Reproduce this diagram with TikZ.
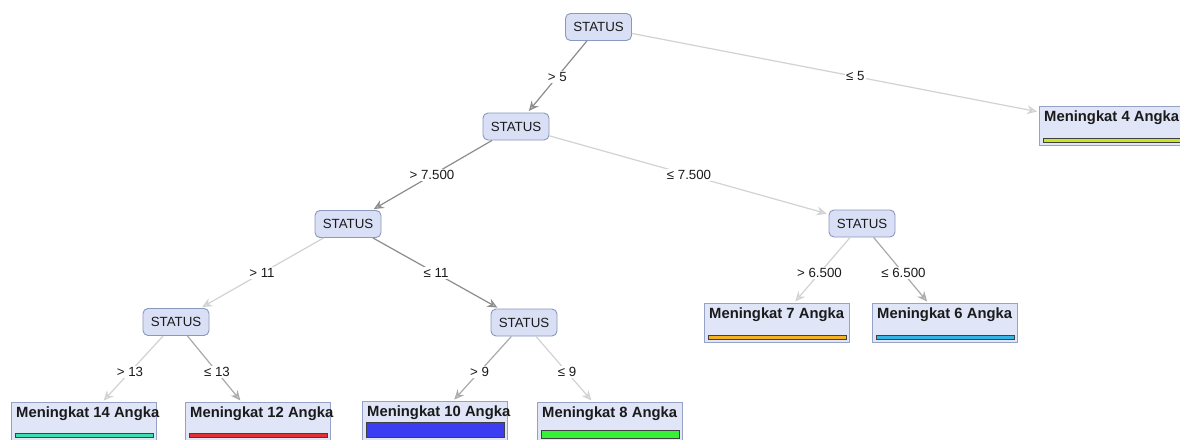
\documentclass[tikz,border=0pt]{standalone}
\usepackage{fontspec}
\setmainfont{Liberation Sans}
\usetikzlibrary{arrows.meta,calc}

\definecolor{splitfill}{HTML}{D9DFF4}
\definecolor{splitline}{HTML}{8A98C0}
\definecolor{leaffill}{HTML}{E0E6F8}
\definecolor{leafline}{HTML}{95A2C6}
\definecolor{edgedark}{HTML}{8C8C8C}
\definecolor{edgemid}{HTML}{AAAAAA}
\definecolor{edgelight}{HTML}{D2D2D2}
\definecolor{txt}{HTML}{1A1A1A}
\definecolor{barA}{HTML}{C8E81E}
\definecolor{barB}{HTML}{F2B224}
\definecolor{barC}{HTML}{36B4E6}
\definecolor{barD}{HTML}{3EDDB0}
\definecolor{barE}{HTML}{E03232}
\definecolor{barF}{HTML}{3C3CF2}
\definecolor{barG}{HTML}{36F236}

\tikzset{
  split/.style={draw=splitline, fill=splitfill, rounded corners=5pt, line width=0.9pt,
    minimum width=66pt, minimum height=27pt, inner sep=0pt, text=txt,
    font=\fontsize{13.3}{15}\selectfont},
  leaf/.style={draw=leafline, fill=leaffill, line width=0.9pt,
    minimum width=145pt, minimum height=39pt, inner sep=0pt},
  leaftext/.style={inner sep=0pt, text=txt, font=\fontsize{14.8}{16}\selectfont\bfseries},
  bar/.style={draw=black!75, line width=0.8pt},
  lbl/.style={fill=white, inner sep=1.5pt, text=txt, font=\fontsize{13.3}{15}\selectfont},
  edge/.style={line width=1.2pt, shorten >=2pt,
    -{Stealth[length=10pt,width=9pt,inset=3.5pt,fill=#1!55]}, draw=#1},
}

% leaf: name, north-west corner, text, bar colour, bar top offset, bar height
\newcommand\leafbox[6]{%
  \node[leaf, anchor=north west] (#1) at (#2) {};
  \node[leaftext, anchor=base west] at ([shift={(5pt,-15.5pt)}]#1.north west) {#3};
  \draw[bar, fill=#4] ([shift={(4pt,-#5)}]#1.north west)
     rectangle ([shift={(-3.5pt,-#5-#6)}]#1.north east);
}
% edge drawn between node borders, label at the centre-to-centre midpoint
\newcommand\tedge[4]{%
  \draw[edge=#3] (#1) -- (#2);
  \node[lbl] at ($(#1.center)!0.5!(#2.center)$) {#4};
}

\begin{document}
\begin{tikzpicture}[x=1pt,y=-1pt]
\useasboundingbox (0,0) rectangle (1180,439);
\clip (0,0) rectangle (1180,439);
\fill[white] (0,0) rectangle (1180,439);

% decision nodes
\node[split] (s0) at (598.5,27) {STATUS};
\node[split] (s1) at (516,126.5) {STATUS};
\node[split] (s2) at (348,224) {STATUS};
\node[split] (s3) at (862,223.5) {STATUS};
\node[split] (s4) at (176,322) {STATUS};
\node[split] (s5) at (524,322.5) {STATUS};

% leaves
\leafbox{l4}{1039,106}{Meningkat 4 Angka}{barA}{32pt}{4pt}
\leafbox{l7}{704,303}{Meningkat 7 Angka}{barB}{32pt}{4pt}
\leafbox{l6}{872,303}{Meningkat 6 Angka}{barC}{32pt}{4pt}
\leafbox{l14}{11,402}{Meningkat 14 Angka}{barD}{31pt}{4pt}
\leafbox{l12}{185,402}{Meningkat 12 Angka}{barE}{31pt}{4pt}
\leafbox{l10}{362,401}{Meningkat 10 Angka}{barF}{21pt}{15pt}
\leafbox{l8}{537,402}{Meningkat 8 Angka}{barG}{28pt}{8pt}

% connectors
\tedge{s0}{s1}{edgedark}{> 5}
\tedge{s0}{l4}{edgelight}{≤ 5}
\tedge{s1}{s2}{edgedark}{> 7.500}
\tedge{s1}{s3}{edgelight}{≤ 7.500}
\tedge{s2}{s4}{edgelight}{> 11}
\tedge{s2}{s5}{edgedark}{≤ 11}
\tedge{s3}{l7}{edgelight}{> 6.500}
\tedge{s3}{l6}{edgemid}{≤ 6.500}
\tedge{s4}{l14}{edgelight}{> 13}
\tedge{s4}{l12}{edgemid}{≤ 13}
\tedge{s5}{l10}{edgemid}{> 9}
\tedge{s5}{l8}{edgelight}{≤ 9}
\end{tikzpicture}
\end{document}
